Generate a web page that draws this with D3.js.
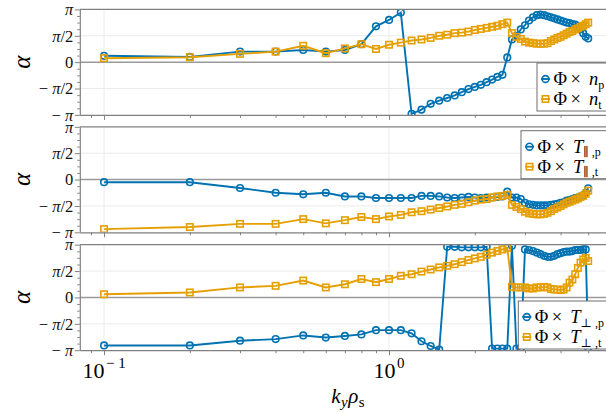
<!DOCTYPE html>
<html>
<head>
<meta charset="utf-8">
<script src="https://cdn.jsdelivr.net/npm/d3@7"></script>
<style>
  body { margin: 0; background: #fff; }
  svg { display: block; font-family: "Liberation Serif", "DejaVu Serif", serif; }
</style>
</head>
<body>
<svg id="chart" width="606" height="412"></svg>
<script>
// ky rho_s values
const ky = [0.1, 0.2, 0.3, 0.4, 0.5, 0.6, 0.7, 0.8, 0.9, 1.0,
            1.1, 1.2, 1.3, 1.4, 1.5, 1.6, 1.7, 1.8, 1.9, 2.0,
            2.1, 2.2, 2.3, 2.4, 2.5, 2.6, 2.7, 2.8, 2.9, 3.0,
            3.1, 3.2, 3.3, 3.4, 3.5, 3.6, 3.7, 3.8, 3.9, 4.0,
            4.1, 4.2, 4.3, 4.4, 4.5, 4.6, 4.7, 4.8, 4.9, 5.0];

// phase angles, in units of pi
const nP = [0.12, 0.10, 0.20, 0.20, 0.23, 0.20, 0.23, 0.34, 0.68, 0.80,
            0.94, -0.98, -0.90, -0.79, -0.73, -0.68, -0.63, -0.57, -0.51, -0.47,
            -0.43, -0.38, -0.33, -0.28, -0.24, 0.09, 0.43, 0.50, 0.62, 0.70,
            0.79, 0.85, 0.89, 0.90, 0.89, 0.87, 0.85, 0.83, 0.81, 0.79,
            0.77, 0.75, 0.74, 0.72, 0.71, 0.68, 0.62, 0.55, 0.48, 0.45];
const nT = [0.075, 0.094, 0.157, 0.20, 0.31, 0.17, 0.26, 0.34, 0.25, 0.33,
            0.37, 0.41, 0.43, 0.46, 0.50, 0.52, 0.55, 0.56, 0.58, 0.61,
            0.63, 0.65, 0.67, 0.69, 0.72, 0.75, 0.55, 0.48, 0.44, 0.39,
            0.37, 0.36, 0.35, 0.35, 0.35, 0.36, 0.40, 0.43, 0.46, 0.48,
            0.51, 0.54, 0.57, 0.59, 0.62, 0.64, 0.67, 0.69, 0.72, 0.75];
const tparP = [-0.05, -0.05, -0.16, -0.25, -0.28, -0.25, -0.32, -0.32, -0.35, -0.35,
               -0.35, -0.35, -0.31, -0.31, -0.32, -0.34, -0.35, -0.34, -0.33, -0.34,
               -0.35, -0.34, -0.34, -0.33, -0.32, -0.23, -0.34, -0.34, -0.37, -0.44,
               -0.47, -0.48, -0.49, -0.49, -0.49, -0.49, -0.48, -0.47, -0.46, -0.44,
               -0.43, -0.40, -0.39, -0.37, -0.35, -0.34, -0.32, -0.30, -0.25, -0.165];
const tparT = [-0.94, -0.90, -0.84, -0.84, -0.75, -0.83, -0.77, -0.71, -0.75, -0.70,
               -0.67, -0.62, -0.60, -0.57, -0.54, -0.51, -0.48, -0.46, -0.43, -0.40,
               -0.38, -0.37, -0.34, -0.32, -0.31, -0.29, -0.48, -0.52, -0.56, -0.61,
               -0.64, -0.65, -0.66, -0.66, -0.65, -0.63, -0.60, -0.56, -0.53, -0.50,
               -0.47, -0.44, -0.42, -0.40, -0.38, -0.36, -0.33, -0.31, -0.27, -0.21];
const tperpP = [-0.91, -0.91, -0.82, -0.79, -0.72, -0.76, -0.73, -0.70, -0.62, -0.62,
                -0.62, -0.68, -0.83, -0.92, -0.99, 0.96, 0.96, 0.95, 0.95, 0.95,
                0.95, 0.96, -0.97, -0.97, -0.97, -0.97, 0.98, -0.97, -0.96, 0.91,
                0.90, 0.88, 0.85, 0.82, 0.79, 0.77, 0.77, 0.79, 0.82, 0.84,
                0.86, 0.87, 0.87, 0.88, 0.90, 0.90, 0.90, 0.91, 0.91, -0.95];
const tperpT = [0.06, 0.095, 0.19, 0.22, 0.32, 0.19, 0.25, 0.35, 0.29, 0.35,
                0.41, 0.44, 0.49, 0.53, 0.57, 0.60, 0.63, 0.67, 0.71, 0.74,
                0.77, 0.81, 0.85, 0.88, 0.91, 0.94, 0.20, 0.19, 0.19, 0.19,
                0.17, 0.17, 0.19, 0.19, 0.20, 0.19, 0.16, 0.15, 0.15, 0.14,
                0.15, 0.19, 0.28, 0.34, 0.44, 0.56, 0.66, 0.72, 0.75, 0.69];

// axis ticks (y in units of pi)
const yMajor = [-1, -0.5, 0, 0.5, 1];
const yMinor = [-0.875, -0.75, -0.625, -0.375, -0.25, -0.125, 0.125, 0.25, 0.375, 0.625, 0.75, 0.875];
const xMajor = [0.1, 1];
const xMinor = [0.09, 0.2, 0.3, 0.4, 0.5, 0.6, 0.7, 0.8, 0.9, 2, 3, 4, 5];

const blue = '#0072b2', orange = '#e69f00';
const spine = '#808080';

const panels = [
  { p: nP, t: nT, sym: 'n', subP: 'p', subT: 't', legX: 537, legY: 53.6 },
  { p: tparP, t: tparT, sym: 'T', subP: '\u2225 ,p', subT: '\u2225 ,t', legX: 521, legY: 3.9 },
  { p: tperpP, t: tperpT, sym: 'T', subP: '\u22a5 ,p', subT: '\u22a5 ,t', legX: 518.3, legY: 56.3 }
];

const svg = d3.select('#chart');
const x = d3.scaleLog().domain([0.0822, 6.08]).range([79.8, 612.4]);
const panelH = 105.5;
const panelTops = [9.4, 126.8, 244.7];
const [xl, xr] = x.range();

// helper: italic pi labels
function piLabel(sel, d) {
  sel.text(null);
  if (d === 0) { sel.append('tspan').text('0'); return; }
  if (d < 0) sel.append('tspan').text('\u2212 ');
  sel.append('tspan').attr('font-style', 'italic').text('\u03c0');
  if (Math.abs(d) === 0.5) sel.append('tspan').text('/2');
}

function addMarkers(g, vals, y, color, shape) {
  const pts = ky.map((k, i) => [x(k), y(vals[i] * Math.PI)]);
  if (shape === 'circle') {
    g.selectAll(null).data(pts).join('circle')
      .attr('cx', d => d[0]).attr('cy', d => d[1]).attr('r', 3.3)
      .attr('fill', 'none').attr('stroke', color).attr('stroke-width', 1.6);
  } else {
    g.selectAll(null).data(pts).join('rect')
      .attr('x', d => d[0] - 3.2).attr('y', d => d[1] - 3.2)
      .attr('width', 6.4).attr('height', 6.4)
      .attr('fill', 'none').attr('stroke', color).attr('stroke-width', 1.6);
  }
}

panels.forEach((pan, i) => {
  const top = panelTops[i];
  const y = d3.scaleLinear().domain([-Math.PI, Math.PI]).range([top + panelH, top]);
  const g = svg.append('g');

  svg.append('clipPath').attr('id', 'clip' + i)
    .append('rect').attr('x', xl).attr('y', top).attr('width', xr - xl).attr('height', panelH);

  // grid
  g.selectAll(null).data(xMajor).join('line')
    .attr('x1', d => x(d)).attr('x2', d => x(d)).attr('y1', top).attr('y2', top + panelH)
    .attr('stroke', '#ebebeb').attr('stroke-width', 1);
  g.selectAll(null).data([-0.5, 0.5]).join('line')
    .attr('x1', xl).attr('x2', xr).attr('y1', d => y(d * Math.PI)).attr('y2', d => y(d * Math.PI))
    .attr('stroke', '#ebebeb').attr('stroke-width', 1);
  // zero line
  g.append('line').attr('x1', xl).attr('x2', xr).attr('y1', y(0)).attr('y2', y(0))
    .attr('stroke', '#9a9a9a').attr('stroke-width', 1.5);

  // data
  const dg = g.append('g').attr('clip-path', `url(#clip${i})`);
  const line = d3.line().x((d, j) => x(ky[j])).y(d => y(d * Math.PI));
  dg.append('path').attr('d', line(pan.p)).attr('fill', 'none')
    .attr('stroke', blue).attr('stroke-width', 1.9);
  addMarkers(dg, pan.p, y, blue, 'circle');
  dg.append('path').attr('d', line(pan.t)).attr('fill', 'none')
    .attr('stroke', orange).attr('stroke-width', 1.9);
  addMarkers(dg, pan.t, y, orange, 'square');

  // top spine
  g.append('line').attr('x1', xl).attr('x2', xr).attr('y1', top).attr('y2', top)
    .attr('stroke', spine).attr('stroke-width', 1.2);

  // y axis
  const yAx = g.append('g').attr('transform', `translate(${xl},0)`)
    .call(d3.axisLeft(y).tickValues(yMajor.map(d => d * Math.PI)).tickSize(5).tickSizeOuter(0).tickPadding(1.5));
  yAx.attr('font-family', null).attr('font-size', null);
  yAx.select('.domain').attr('stroke', spine).attr('stroke-width', 1.2);
  yAx.selectAll('.tick line').attr('stroke', spine);
  yAx.selectAll('.tick text').attr('font-size', 16.5).attr('fill', '#111')
    .attr('font-family', '"Liberation Serif", serif')
    .each(function (d) { piLabel(d3.select(this), Math.round(d / Math.PI * 2) / 2); });
  const yMin = g.append('g').attr('transform', `translate(${xl},0)`)
    .call(d3.axisLeft(y).tickValues(yMinor.map(d => d * Math.PI)).tickSize(2.5).tickFormat(''));
  yMin.select('.domain').remove();
  yMin.selectAll('.tick line').attr('stroke', spine);

  // x axis
  const xAx = g.append('g').attr('transform', `translate(0,${top + panelH})`)
    .call(d3.axisBottom(x).tickValues(xMajor).tickSize(5).tickSizeOuter(0).tickFormat(''));
  xAx.select('.domain').attr('stroke', spine).attr('stroke-width', 1.2);
  xAx.selectAll('.tick line').attr('stroke', spine);
  const xMin = g.append('g').attr('transform', `translate(0,${top + panelH})`)
    .call(d3.axisBottom(x).tickValues(xMinor).tickSize(3).tickFormat(''));
  xMin.select('.domain').remove();
  xMin.selectAll('.tick line').attr('stroke', spine);

  // y label
  svg.append('text').attr('transform', `translate(22,${top + panelH / 2}) rotate(-90)`)
    .attr('text-anchor', 'middle').attr('dy', '0.3em')
    .attr('font-size', 25).attr('font-style', 'italic').text('\u03b1');

  // legend
  const lg = svg.append('g').attr('transform', `translate(${pan.legX},${top + pan.legY})`);
  lg.append('rect').attr('x', 0).attr('y', 0).attr('width', 620 - pan.legX).attr('height', 48)
    .attr('fill', '#fff').attr('stroke', '#6e6e6e').attr('stroke-width', 1);
  [[blue, 'circle', pan.subP], [orange, 'square', pan.subT]].forEach(([c, shape, sub], r) => {
    const cy = 16 + r * 20;
    lg.append('line').attr('x1', 4).attr('x2', 13).attr('y1', cy).attr('y2', cy)
      .attr('stroke', c).attr('stroke-width', 1.9);
    if (shape === 'circle') {
      lg.append('circle').attr('cx', 8.5).attr('cy', cy).attr('r', 3.4)
        .attr('fill', 'none').attr('stroke', c).attr('stroke-width', 1.6);
    } else {
      lg.append('rect').attr('x', 5.3).attr('y', cy - 3.2).attr('width', 6.4).attr('height', 6.4)
        .attr('fill', 'none').attr('stroke', c).attr('stroke-width', 1.6);
    }
    const t = lg.append('text').attr('y', cy + 6).attr('font-size', 18.5);
    t.append('tspan').attr('x', 16.5).text('\u03a6');
    t.append('tspan').attr('x', 33.5).text('\u00d7');
    t.append('tspan').attr('x', 52).attr('font-style', 'italic').text(pan.sym);
    t.append('tspan').attr('font-size', 12).attr('dy', 3.5).text(sub);
  });
});

// bottom tick labels (last panel)
const yb = panelTops[2] + panelH;
xMajor.forEach(v => {
  const t = svg.append('text').attr('x', x(v)).attr('y', yb + 28).attr('text-anchor', 'middle')
    .attr('font-size', 22);
  t.append('tspan').text('10');
  t.append('tspan').attr('font-size', 15).attr('dy', -10).attr('dx', 1.5)
    .text(String(Math.round(Math.log10(v))).replace('-', '\u2212 '));
});

// x label
const xlab = svg.append('text').attr('x', (xl + xr) / 2 + 2).attr('y', 403).attr('text-anchor', 'middle')
  .attr('font-size', 21).attr('letter-spacing', 0.5);
xlab.append('tspan').attr('font-style', 'italic').text('k');
xlab.append('tspan').attr('font-style', 'italic').attr('font-size', 15).attr('dy', 4).text('y');
xlab.append('tspan').attr('font-style', 'italic').attr('dy', -4).text('\u03c1');
xlab.append('tspan').attr('font-size', 15).attr('dy', 4).text('s');
</script>
</body>
</html>
